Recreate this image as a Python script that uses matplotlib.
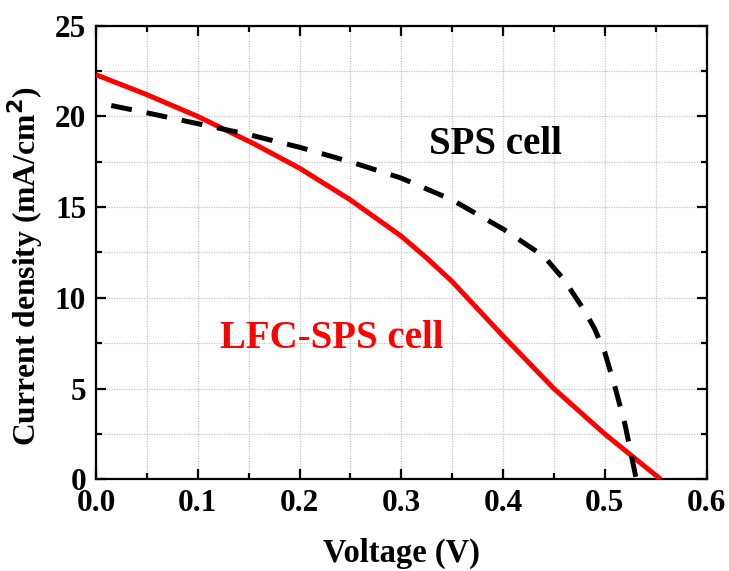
import matplotlib
matplotlib.use("Agg")
import matplotlib.pyplot as plt
from matplotlib.ticker import MultipleLocator

# J-V curves of the two cells
lfc_v = [0.0, 0.05, 0.10, 0.155, 0.20, 0.25, 0.30, 0.325, 0.35, 0.40, 0.45, 0.50, 0.555]
lfc_j = [22.3, 21.2, 20.0, 18.5, 17.15, 15.4, 13.4, 12.2, 10.9, 7.9, 5.0, 2.5, 0.0]

sps_v = [0.015, 0.05, 0.10, 0.15, 0.20, 0.25, 0.30, 0.35, 0.40, 0.44, 0.46, 0.48, 0.49, 0.50, 0.51, 0.52, 0.531]
sps_j = [20.6, 20.2, 19.6, 19.0, 18.3, 17.5, 16.6, 15.4, 13.8, 12.3, 11.0, 9.3, 8.3, 7.0, 5.1, 3.0, 0.0]

x_ticks = [0.0, 0.1, 0.2, 0.3, 0.4, 0.5, 0.6]
y_ticks = [0, 5, 10, 15, 20, 25]

plt.rcParams["font.family"] = ["Liberation Serif", "DejaVu Serif"]
plt.rcParams["font.weight"] = "bold"

fig = plt.figure(figsize=(7.29, 5.71), dpi=100)
ax = fig.add_axes([96 / 729, 1 - 479.3 / 571, 610.5 / 729, 453.6 / 571])

ax.plot(lfc_v, lfc_j, color="#ff0000", lw=3.6, solid_capstyle="butt", zorder=3)
ax.plot(sps_v, sps_j, color="black", lw=3.6, dashes=(4.2, 3.0),
        dash_capstyle="butt", zorder=3)

ax.set_xlim(0, 0.6)
ax.set_ylim(0, 25)
ax.set_xticks(x_ticks)
ax.set_yticks(y_ticks)
ax.set_xticklabels([f"{v:.1f}" for v in x_ticks])
ax.set_yticklabels([str(v) for v in y_ticks])
ax.xaxis.set_minor_locator(MultipleLocator(0.05))
ax.yaxis.set_minor_locator(MultipleLocator(2.5))

ax.grid(True, which="both", color="#c4c4c4", linestyle=(0, (1, 1)), lw=0.9, zorder=0)
ax.set_axisbelow(True)

for s in ax.spines.values():
    s.set_linewidth(1.6)
ax.tick_params(which="both", direction="in", top=True, right=True, width=1.6,
               labelsize=22.5, pad=7)
ax.tick_params(which="major", length=7)
ax.tick_params(which="minor", length=4)
for lab in ax.get_xticklabels() + ax.get_yticklabels():
    lab.set_fontweight("bold")

ax.set_xlabel("Voltage (V)", fontsize=23.5, fontweight="bold", labelpad=14)
ax.set_ylabel("Current density (mA/cm$^\\mathbf{2}$)", fontsize=22.8, fontweight="bold")
ax.yaxis.set_label_coords(-0.084, 0.47)

ax.text(0.3928, 17.95, "SPS cell", fontsize=28, fontweight="bold", color="black",
        ha="center", va="baseline")
ax.text(0.2318, 7.21, "LFC-SPS cell", fontsize=28, fontweight="bold", color="#ff0000",
        ha="center", va="baseline")

fig.savefig("out.png", dpi=100)
